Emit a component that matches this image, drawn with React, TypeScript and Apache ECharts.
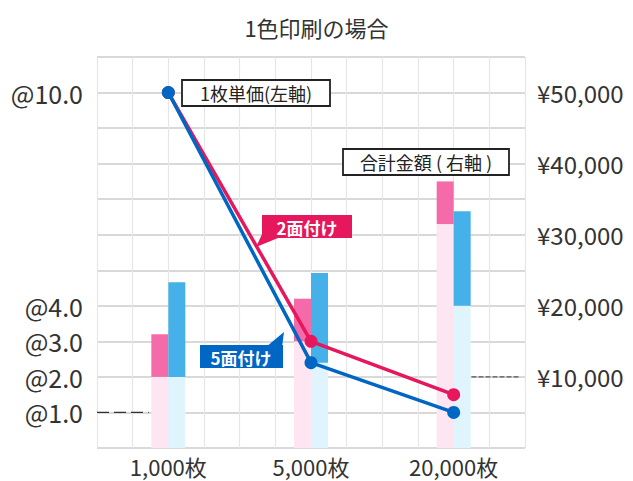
import React, { useEffect, useRef } from 'react';
import * as echarts from 'echarts';

const titleText = '1色印刷の場合';
const categories = ['1,000枚', '5,000枚', '20,000枚'];
const unitPrice2 = [10.0, 3.0, 1.5];
const unitPrice5 = [10.0, 2.4, 1.0];
const base2 = [10000, 15000, 31500];
const extra2 = [6000, 6000, 6000];
const base5 = [10000, 12000, 20000];
const extra5 = [13300, 12600, 13300];
const leftTicks = [1, 2, 3, 4, 10];
const rightTicks = [10000, 20000, 30000, 40000, 50000];
const labelUnit = '1枚単価(左軸)';
const labelTotal = '合計金額 ( 右軸 )';
const label2 = '2面付け';
const label5 = '5面付け';

const FONT = '"Noto Sans CJK JP", "Noto Sans", sans-serif';
const PINK_LINE = '#e6175c';
const BLUE_LINE = '#0066c4';
const PINK_DARK = '#f56aa8';
const BLUE_DARK = '#46b0e8';
const PINK_LIGHT = '#fde6f1';
const BLUE_LIGHT = '#e0f4fd';

export default function App() {
  const ref = useRef<HTMLDivElement>(null);
  useEffect(() => {
    if (!ref.current) return;
    const chart = echarts.init(ref.current, null, { renderer: 'svg' });
    const barW = 17;
    const option: any = {
      animation: false,
      backgroundColor: '#ffffff',
      title: {
        text: titleText,
        left: 'center',
        top: 11,
        textStyle: { fontFamily: FONT, fontSize: 22, fontWeight: 'normal', color: '#333' },
      },
      grid: { left: 97, right: 108, top: 57, bottom: 33, containLabel: false },
      xAxis: [
        {
          type: 'category',
          data: categories,
          axisLine: { show: false },
          axisTick: { show: false },
          axisLabel: { fontFamily: FONT, fontSize: 22, color: '#333', margin: 6, lineHeight: 24 },
          splitLine: { show: false },
        },
        {
          type: 'value',
          min: 0,
          max: 12,
          interval: 1,
          position: 'top',
          axisLine: { show: false },
          axisTick: { show: false },
          axisLabel: { show: false },
          splitLine: { show: true, lineStyle: { color: '#e6e6e6', width: 1.2 } },
        },
      ],
      yAxis: [
        {
          type: 'value',
          min: 0,
          max: 11,
          interval: 1,
          axisLine: { show: false },
          axisTick: { show: false },
          axisLabel: {
            fontFamily: FONT,
            fontSize: 25,
            color: '#333',
            margin: 14,
            formatter: (v: number) => (leftTicks.indexOf(v) >= 0 ? '@' + v.toFixed(1) : ''),
          },
          splitLine: { show: true, lineStyle: { color: '#cdcdcd', width: 1.6 } },
        },
        {
          type: 'value',
          min: 0,
          max: 55000,
          interval: 10000,
          position: 'right',
          axisLine: { show: false },
          axisTick: { show: false },
          axisLabel: {
            fontFamily: FONT,
            fontSize: 24,
            color: '#333',
            margin: 12,
            formatter: (v: number) =>
              rightTicks.indexOf(v) >= 0 ? '¥' + v.toLocaleString('en-US') : '',
          },
          splitLine: { show: false },
        },
      ],
      series: [
        {
          type: 'bar', name: 'base2', stack: 'p', xAxisIndex: 0, yAxisIndex: 1,
          data: base2, barWidth: barW, barGap: '0%', itemStyle: { color: PINK_LIGHT }, z: 2,
        },
        {
          type: 'bar', name: 'extra2', stack: 'p', xAxisIndex: 0, yAxisIndex: 1,
          data: extra2, barWidth: barW, barGap: '0%', itemStyle: { color: PINK_DARK }, z: 2,
        },
        {
          type: 'bar', name: 'base5', stack: 'b', xAxisIndex: 0, yAxisIndex: 1,
          data: base5, barWidth: barW, barGap: '0%', itemStyle: { color: BLUE_LIGHT }, z: 2,
        },
        {
          type: 'bar', name: 'extra5', stack: 'b', xAxisIndex: 0, yAxisIndex: 1,
          data: extra5, barWidth: barW, barGap: '0%', itemStyle: { color: BLUE_DARK }, z: 2,
        },
        {
          type: 'line', name: label2, xAxisIndex: 0, yAxisIndex: 0, data: unitPrice2,
          symbol: 'circle', symbolSize: 13,
          lineStyle: { color: PINK_LINE, width: 3.5 },
          itemStyle: { color: PINK_LINE }, z: 5,
        },
        {
          type: 'line', name: label5, xAxisIndex: 0, yAxisIndex: 0, data: unitPrice5,
          symbol: 'circle', symbolSize: 13,
          lineStyle: { color: BLUE_LINE, width: 3.5 },
          itemStyle: { color: BLUE_LINE }, z: 6,
        },
      ],
    };
    chart.setOption(option);

    const yLeft1 = chart.convertToPixel({ yAxisIndex: 0 }, 1) as number;
    const yRight10k = chart.convertToPixel({ yAxisIndex: 1 }, 10000) as number;
    const xL0 = chart.convertToPixel({ xAxisIndex: 1 }, 0) as number;
    const xL1 = chart.convertToPixel({ xAxisIndex: 1 }, 1.45) as number;
    const xR0 = chart.convertToPixel({ xAxisIndex: 1 }, 10.5) as number;
    const xR1 = chart.convertToPixel({ xAxisIndex: 1 }, 11.85) as number;

    const boxText = (x: number, y: number, w: number, h: number, text: string, size: number) => ({
      type: 'group',
      x, y, z: 100,
      children: [
        { type: 'rect', shape: { x: 0, y: 0, width: w, height: h }, style: { fill: '#fff', stroke: '#222', lineWidth: 1.8 } },
        {
          type: 'text', x: w / 2, y: h / 2,
          style: { text, fontFamily: FONT, fontSize: size, fill: '#222', align: 'center', verticalAlign: 'middle' },
        },
      ],
    });

    chart.setOption({
      graphic: [
        {
          type: 'line', z: 50,
          shape: { x1: xL0, y1: yLeft1, x2: xL1, y2: yLeft1 },
          style: { stroke: '#333', lineWidth: 1.2, lineDash: [12, 5] },
        },
        {
          type: 'line', z: 50,
          shape: { x1: xR0, y1: yRight10k, x2: xR1, y2: yRight10k },
          style: { stroke: '#333', lineWidth: 1, lineDash: [5, 2] },
        },
        boxText(182, 80, 148, 26, labelUnit, 18),
        boxText(343, 149, 166, 26, labelTotal, 18),
        {
          type: 'group', x: 262, y: 215, z: 100,
          children: [
            { type: 'polygon', shape: { points: [[2, 15], [16, 23], [-6, 32]] }, style: { fill: PINK_LINE } },
            { type: 'rect', shape: { x: 0, y: 0, width: 90, height: 23 }, style: { fill: PINK_LINE } },
            {
              type: 'text', x: 45, y: 12,
              style: { text: label2, fontFamily: FONT, fontSize: 17, fontWeight: 'bold', fill: '#fff', align: 'center', verticalAlign: 'middle' },
            },
          ],
        },
        {
          type: 'group', x: 200, y: 345, z: 100,
          children: [
            { type: 'polygon', shape: { points: [[66, 2], [82, 2], [84, -13]] }, style: { fill: BLUE_LINE } },
            { type: 'rect', shape: { x: 0, y: 0, width: 83, height: 23 }, style: { fill: BLUE_LINE } },
            {
              type: 'text', x: 41, y: 12,
              style: { text: label5, fontFamily: FONT, fontSize: 17, fontWeight: 'bold', fill: '#fff', align: 'center', verticalAlign: 'middle' },
            },
          ],
        },
      ],
    });

    return () => chart.dispose();
  }, []);
  return (
    <div
      ref={ref}
      style={{ position: 'absolute', left: 0, top: 0, width: 633, height: 481 }}
    />
  );
}
